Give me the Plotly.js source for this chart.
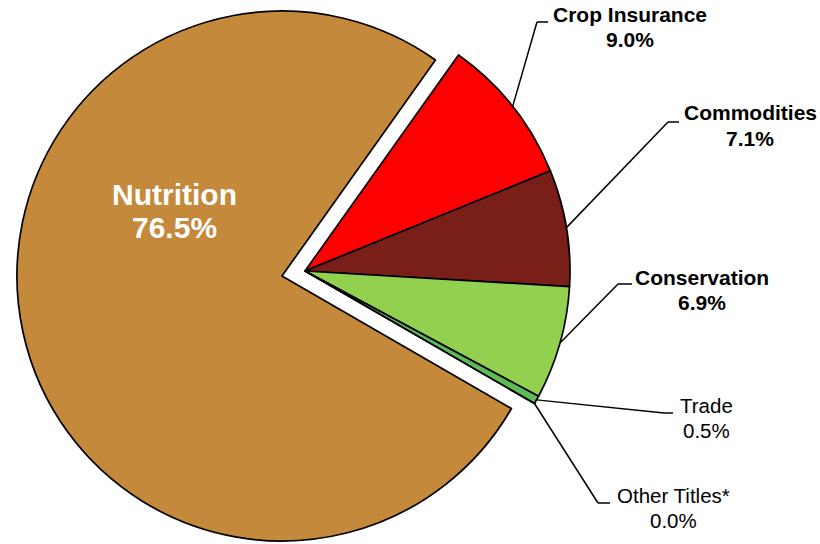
<!DOCTYPE html>
<html><head><meta charset="utf-8">
<script src="https://cdn.plot.ly/plotly-3.0.1.min.js"></script>
<style>html,body{margin:0;padding:0;background:#fff}#chart{width:820px;height:544px}</style>
</head><body><div id="chart"></div>
<script>
// ---- data ----
const categories = ['Crop Insurance', 'Commodities', 'Conservation', 'Trade', 'Other Titles*', 'Nutrition'];
const shares = [9.0, 7.1, 6.9, 0.5, 0.0, 76.5];

// ---- styles / layout ----
const sliceColors = ['#FF0000', '#7A1F18', '#92D050', '#5CBB55', '#4472C4', '#C4893A'];
const boldLabel = [true, true, true, false, false, true];
const W = 820, H = 544;
const CX = 305, CY = 271, R = 265, ROT = 35.4, PULL = 0.089;
const pulledIndex = categories.indexOf('Nutrition');
const FONT = '"Liberation Sans", Arial, sans-serif';
// label placement (pixels): text centre x, baselines of the two lines, leader elbow and end
const labelSpots = [
  {tx: 630, b1: 22,  b2: 47,  size: 21, elbow: [537, 22],  end: [548, 22]},
  {tx: 750, b1: 120, b2: 146, size: 21, elbow: [668, 122], end: [679, 122]},
  {tx: 702, b1: 285, b2: 310, size: 21, elbow: [618, 284], end: [632, 284]},
  {tx: 706, b1: 413, b2: 438, size: 20.5, elbow: [664, 413], end: [673, 413]},
  {tx: 673, b1: 503, b2: 528, size: 20.5, elbow: [598, 503], end: [610, 503]},
  {tx: 174, b1: 205, b2: 238, size: 30, inside: true}
];

const total = shares.reduce((a, b) => a + b, 0);
let cum = 0;
const midDeg = shares.map(v => { const m = ROT + 360 * (cum + v / 2) / total; cum += v; return m; });
const rad = d => d * Math.PI / 180;

function domainFor(cx, cy) {
  return {x: [(cx - R) / W, (cx + R) / W], y: [1 - (cy + R) / H, 1 - (cy - R) / H]};
}
const pullDx = PULL * R * Math.sin(rad(midDeg[pulledIndex]));
const pullDy = -PULL * R * Math.cos(rad(midDeg[pulledIndex]));

const base = {
  type: 'pie', labels: categories, values: shares, sort: false, direction: 'clockwise',
  rotation: ROT, textinfo: 'none', hoverinfo: 'none', showlegend: false
};
const traceMain = Object.assign({}, base, {
  domain: domainFor(CX, CY),
  marker: {
    colors: sliceColors.map((c, i) => i === pulledIndex ? 'rgba(0,0,0,0)' : c),
    line: {color: '#000', width: sliceColors.map((c, i) => i === pulledIndex ? 0 : 1.7)}
  }
});
const tracePulled = Object.assign({}, base, {
  domain: domainFor(CX + pullDx, CY + pullDy),
  marker: {
    colors: sliceColors.map((c, i) => i === pulledIndex ? c : 'rgba(0,0,0,0)'),
    line: {color: '#000', width: sliceColors.map((c, i) => i === pulledIndex ? 1.7 : 0)}
  }
});

const px = x => x / W, py = y => 1 - y / H;
const shapes = [], annotations = [];
categories.forEach((name, i) => {
  const s = labelSpots[i];
  const lines = [name, shares[i].toFixed(1) + '%'];
  const color = s.inside ? '#FFFFFF' : '#000000';
  [s.b1, s.b2].forEach((b, k) => {
    annotations.push({x: px(s.tx), y: py(b - 0.35 * s.size), xref: 'paper', yref: 'paper', showarrow: false,
      xanchor: 'center', yanchor: 'middle',
      text: boldLabel[i] ? '<b>' + lines[k] + '</b>' : lines[k],
      font: {family: FONT, size: s.size, color: color}});
  });
  if (s.inside) return;
  const sx = CX + R * Math.sin(rad(midDeg[i]));
  const sy = CY - R * Math.cos(rad(midDeg[i]));
  const ln = {color: '#000', width: 1.5};
  shapes.push({type: 'line', xref: 'paper', yref: 'paper', x0: px(sx), y0: py(sy), x1: px(s.elbow[0]), y1: py(s.elbow[1]), line: ln});
  shapes.push({type: 'line', xref: 'paper', yref: 'paper', x0: px(s.elbow[0]), y0: py(s.elbow[1]), x1: px(s.end[0]), y1: py(s.end[1]), line: ln});
});

Plotly.newPlot('chart', [tracePulled, traceMain], {
  width: W, height: H, margin: {l: 0, r: 0, t: 0, b: 0},
  paper_bgcolor: '#fff', plot_bgcolor: '#fff',
  shapes: shapes, annotations: annotations
}, {staticPlot: true});
</script>
</body></html>
